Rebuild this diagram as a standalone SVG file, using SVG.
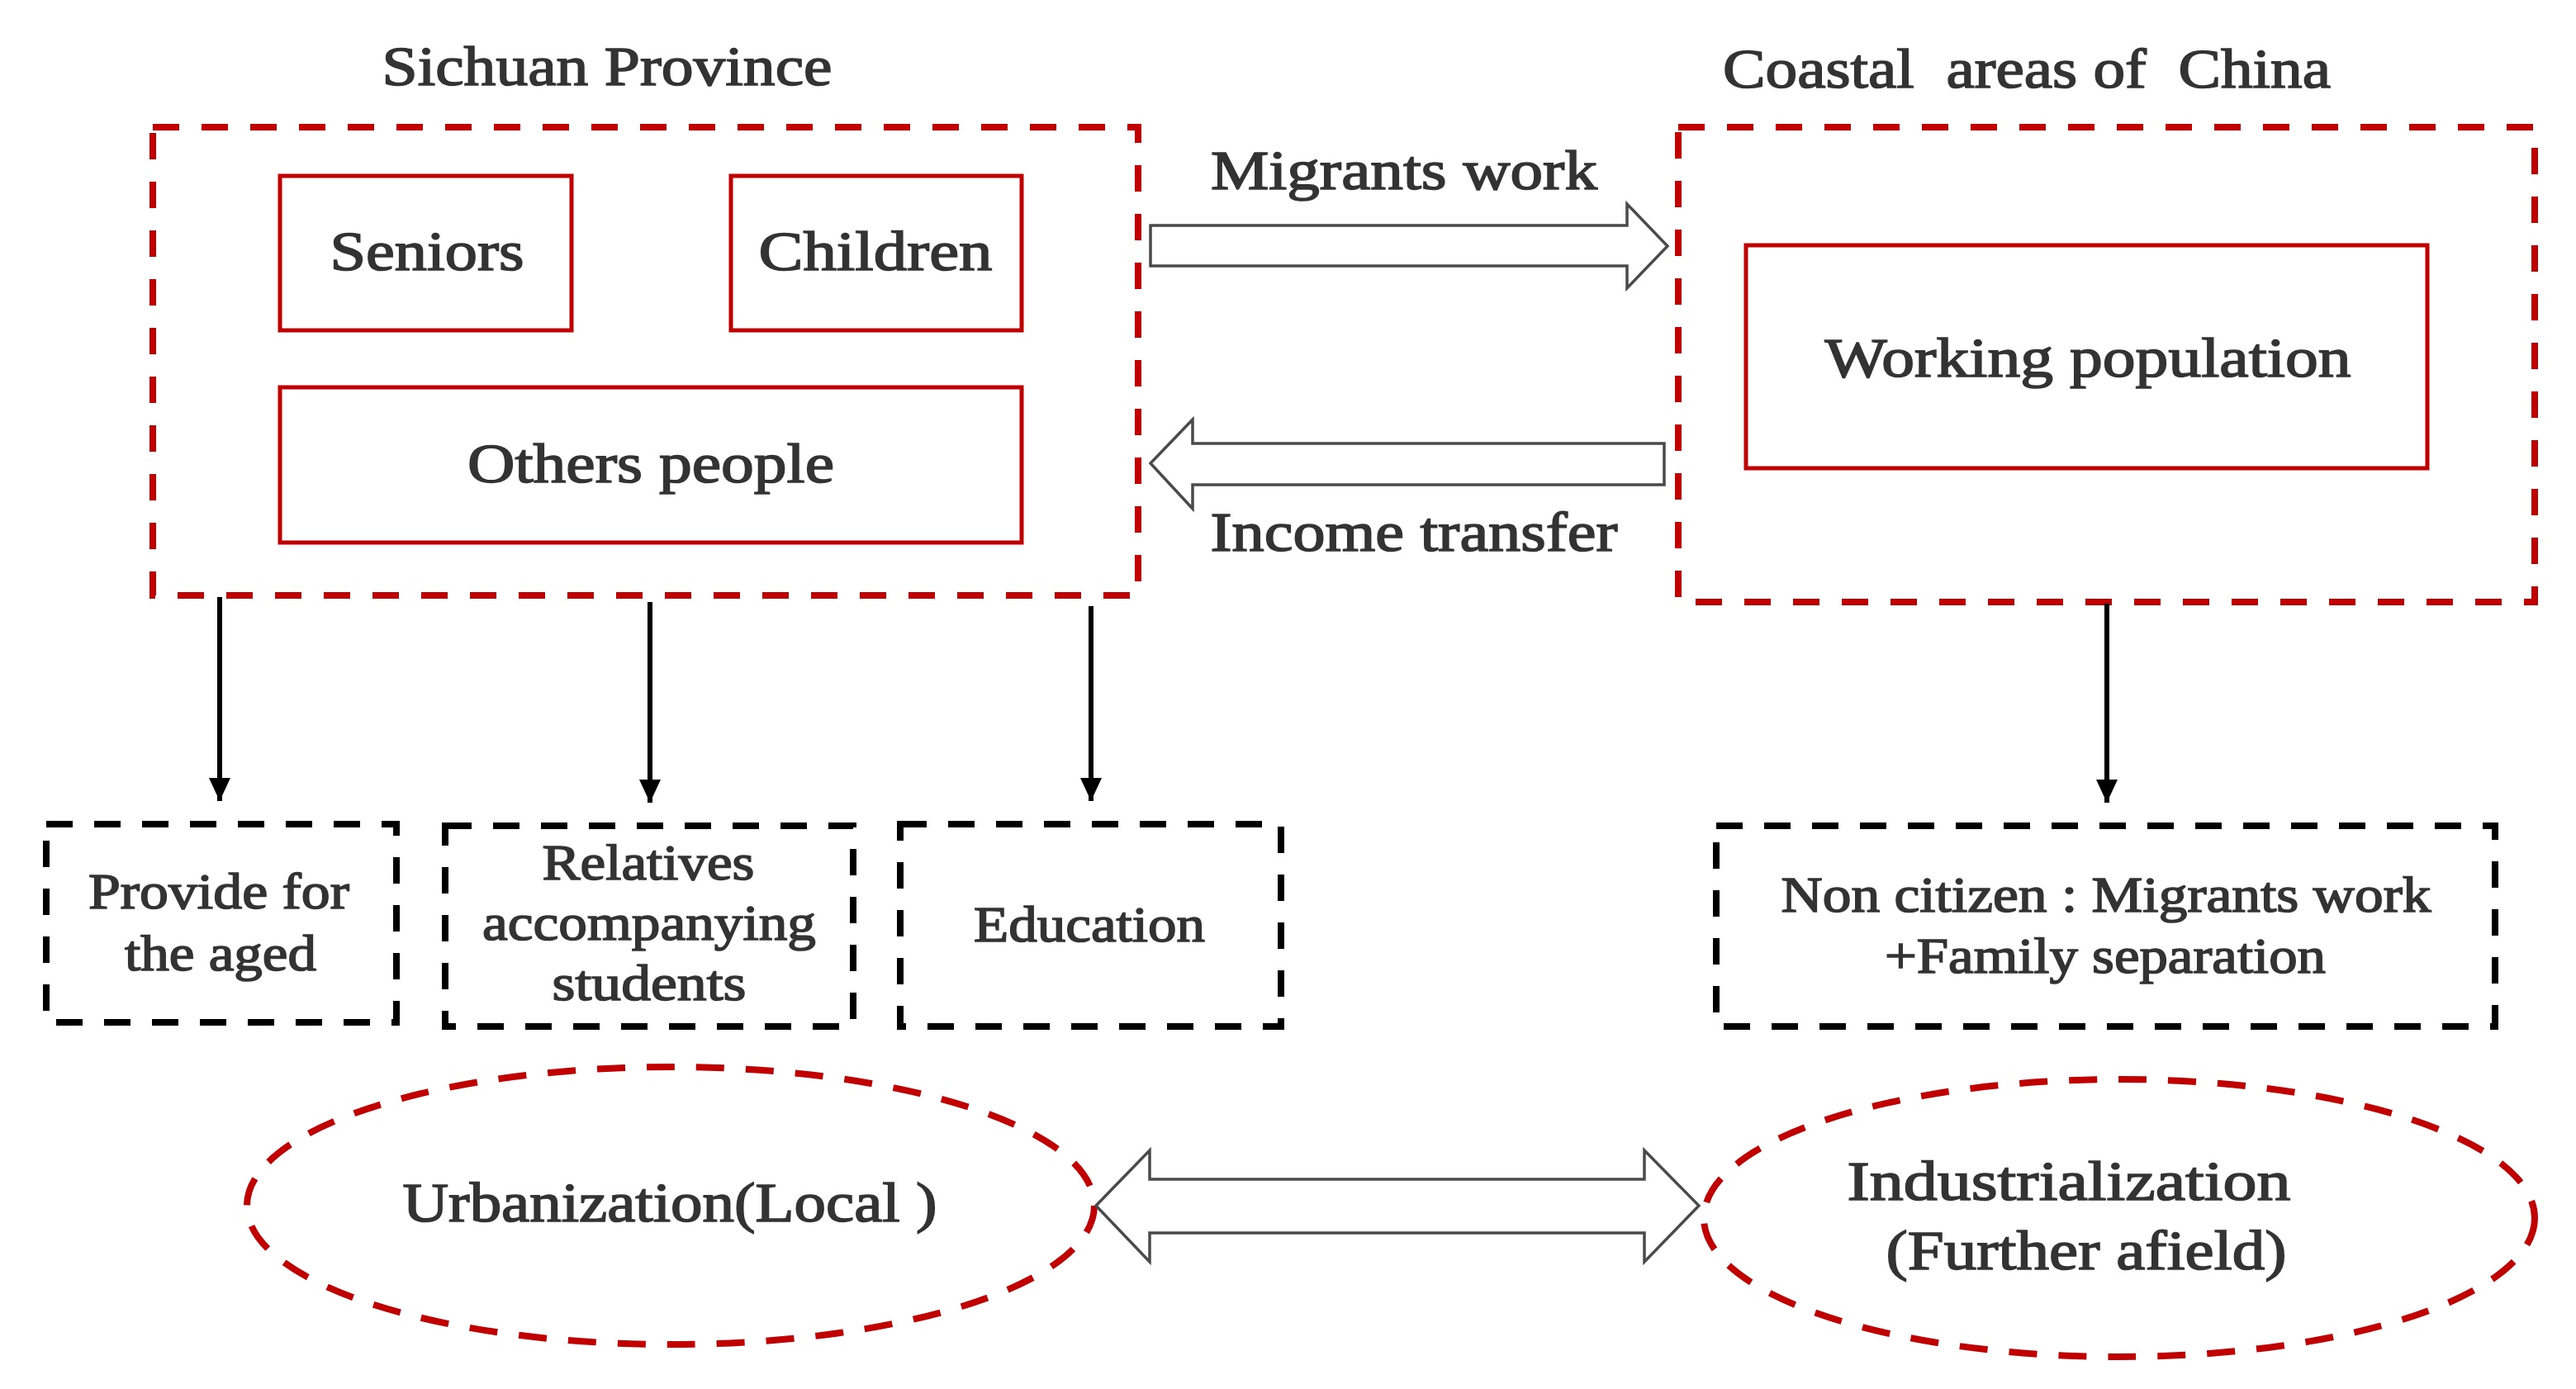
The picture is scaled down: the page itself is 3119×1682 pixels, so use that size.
<svg xmlns="http://www.w3.org/2000/svg" width="3119" height="1682" viewBox="0 0 3119 1682">
<style>
.t{font-family:"Liberation Serif","DejaVu Serif",serif;fill:#333;stroke:#333;stroke-width:1.6;text-anchor:middle;font-size:68px}
.s{font-size:62px}
.rd{fill:none;stroke:#C00000;stroke-width:8;stroke-dasharray:32 27}
.rs{fill:none;stroke:#C00000;stroke-width:5}
.bd{fill:none;stroke:#000;stroke-width:8;stroke-dasharray:32 26}
.ed{fill:none;stroke:#C00000;stroke-width:8;stroke-dasharray:34 26}
.ar{fill:#fff;stroke:#4a4a4a;stroke-width:3.5;stroke-linejoin:miter}
.cn{stroke:#000;stroke-width:6;fill:none}
</style>
<defs>
<marker id="ah" markerUnits="userSpaceOnUse" markerWidth="26" markerHeight="28" viewBox="0 0 26 28" refX="13" refY="28" orient="0">
<path d="M0,0 L26,0 L13,28 Z" fill="#000"/>
</marker>
</defs>
<rect width="3119" height="1682" fill="#fff"/>

<g id="title-sichuan"><text class="t" x="735" y="103" textLength="545" lengthAdjust="spacingAndGlyphs">Sichuan Province</text></g>
<g id="title-coastal"><text class="t" x="2454" y="106" textLength="736" lengthAdjust="spacingAndGlyphs" xml:space="preserve">Coastal  areas of  China</text></g>

<g id="sichuan-box"><rect class="rd" x="185" y="154" width="1193" height="567"/></g>
<g id="seniors"><rect class="rs" x="339" y="213" width="353" height="187"/><text class="t" x="517" y="327" textLength="235" lengthAdjust="spacingAndGlyphs">Seniors</text></g>
<g id="children"><rect class="rs" x="885" y="213" width="352" height="187"/><text class="t" x="1060" y="327" textLength="283" lengthAdjust="spacingAndGlyphs">Children</text></g>
<g id="others"><rect class="rs" x="339" y="469" width="898" height="188"/><text class="t" x="788" y="584" textLength="444" lengthAdjust="spacingAndGlyphs">Others people</text></g>

<g id="coastal-box"><rect class="rd" x="2032" y="154" width="1037" height="575"/></g>
<g id="working"><rect class="rs" x="2114" y="297" width="825" height="270"/><text class="t" x="2528" y="456" textLength="637" lengthAdjust="spacingAndGlyphs">Working population</text></g>

<g id="provide"><rect class="bd" x="56" y="998" width="424" height="240"/><text class="t s" x="265" y="1100" textLength="316" lengthAdjust="spacingAndGlyphs">Provide for</text><text class="t s" x="267" y="1175" textLength="232" lengthAdjust="spacingAndGlyphs">the aged</text></g>
<g id="relatives"><rect class="bd" x="539" y="1000" width="494" height="243"/><text class="t s" x="785" y="1065" textLength="257" lengthAdjust="spacingAndGlyphs">Relatives</text><text class="t s" x="786" y="1138" textLength="404" lengthAdjust="spacingAndGlyphs">accompanying</text><text class="t s" x="786" y="1211" textLength="235" lengthAdjust="spacingAndGlyphs">students</text></g>
<g id="education"><rect class="bd" x="1090" y="998" width="461" height="245"/><text class="t s" x="1319" y="1140" textLength="280" lengthAdjust="spacingAndGlyphs">Education</text></g>
<g id="noncitizen"><rect class="bd" x="2078" y="1000" width="943" height="243"/><text class="t s" x="2550" y="1104" textLength="787" lengthAdjust="spacingAndGlyphs">Non citizen : Migrants work</text><text class="t s" x="2549" y="1178" textLength="534" lengthAdjust="spacingAndGlyphs">+Family separation</text></g>

<g id="urbanization"><ellipse class="ed" cx="812" cy="1460" rx="513" ry="168"/><text class="t" x="811" y="1479" textLength="647" lengthAdjust="spacingAndGlyphs">Urbanization(Local )</text></g>
<g id="industrialization"><ellipse class="ed" cx="2566" cy="1475" rx="503" ry="168"/><text class="t" x="2505" y="1453" textLength="537" lengthAdjust="spacingAndGlyphs">Industrialization</text><text class="t" x="2526" y="1537" textLength="485" lengthAdjust="spacingAndGlyphs">(Further afield)</text></g>

<g id="connectors">
<polygon class="ar" points="1393,273 1970,273 1970,247 2019,298 1970,349 1970,322 1393,322"/>
<text class="t" x="1700" y="229" textLength="468" lengthAdjust="spacingAndGlyphs">Migrants work</text>
<polygon class="ar" points="2015,537 1444,537 1444,508 1393,561 1444,616 1444,587 2015,587"/>
<text class="t" x="1712" y="667" textLength="493" lengthAdjust="spacingAndGlyphs">Income transfer</text>
<polygon class="ar" points="1327,1460 1392,1393 1392,1428 1991,1428 1991,1393 2057,1460 1991,1528 1991,1493 1392,1493 1392,1528"/>
<line class="cn" x1="266" y1="723" x2="266" y2="970" marker-end="url(#ah)"/>
<line class="cn" x1="787" y1="729" x2="787" y2="972" marker-end="url(#ah)"/>
<line class="cn" x1="1321" y1="734" x2="1321" y2="970" marker-end="url(#ah)"/>
<line class="cn" x1="2551" y1="731" x2="2551" y2="972" marker-end="url(#ah)"/>
</g>
</svg>
